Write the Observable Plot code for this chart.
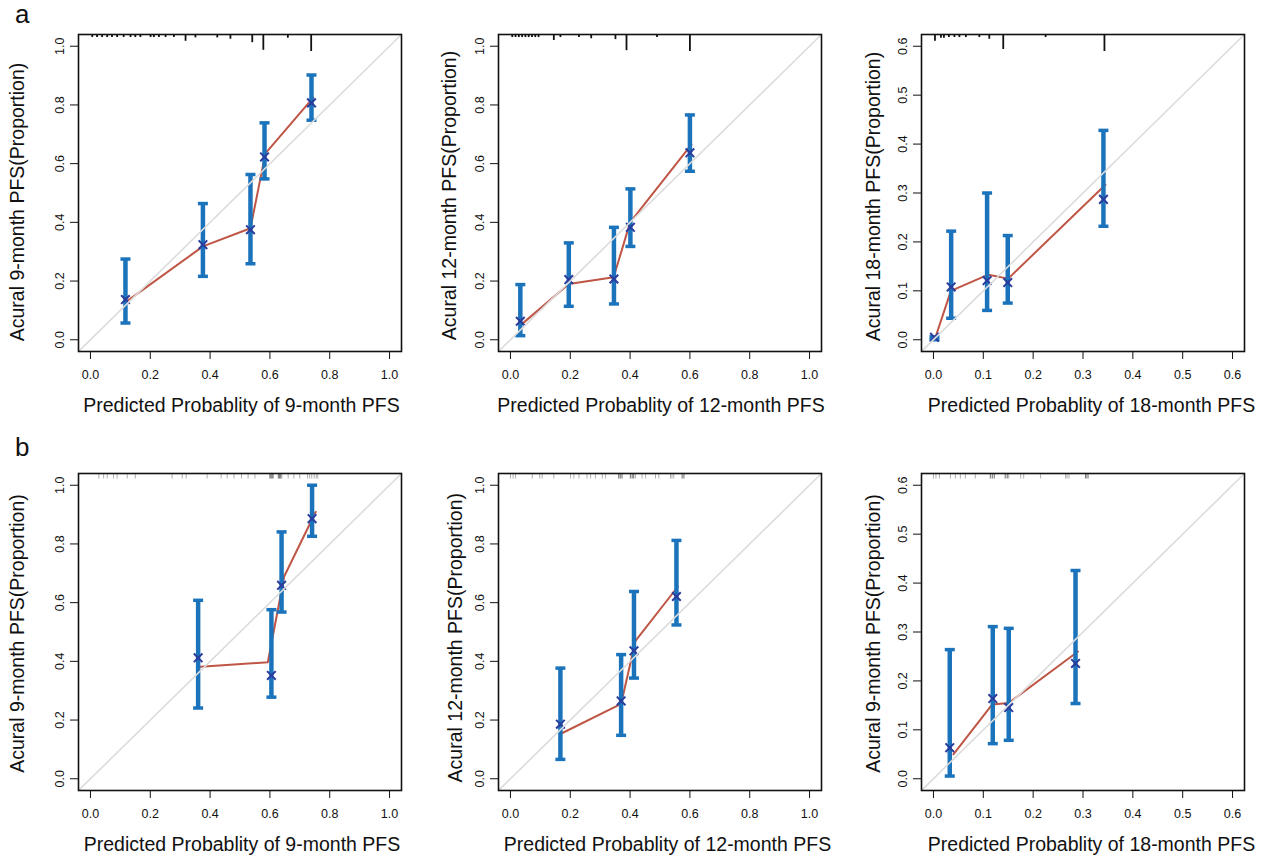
<!DOCTYPE html>
<html><head><meta charset="utf-8">
<script src="https://cdn.jsdelivr.net/npm/d3@7"></script>
<script src="https://cdn.jsdelivr.net/npm/@observablehq/plot@0.6"></script>
<style>
body{margin:0;background:#fff;font-family:"Liberation Sans",Arial,sans-serif;}
#wrap{position:relative;width:1266px;height:858px;overflow:hidden;background:#fff;}
.panel{position:absolute;width:422px;height:424px;}
.letter{position:absolute;font-size:26px;line-height:1.1;color:#111;}
</style></head><body>
<div id="wrap"></div>
<script>
// ---------- axis ticks ----------
const ticks10 = [0, 0.2, 0.4, 0.6, 0.8, 1.0];
const ticks06 = [0, 0.1, 0.2, 0.3, 0.4, 0.5, 0.6];

// ---------- titles ----------
const xTitles = ["Predicted Probablity of 9-month PFS", "Predicted Probablity of 12-month PFS", "Predicted Probablity of 18-month PFS"];
const yTitlesA = ["Acural 9-month PFS(Proportion)", "Acural 12-month PFS(Proportion)", "Acural 18-month PFS(Proportion)"];
const yTitlesB = ["Acural 9-month PFS(Proportion)", "Acural 12-month PFS(Proportion)", "Acural 9-month PFS(Proportion)"];

// ---------- panel a1 (9-month) ----------
const a1Pred = [0.117, 0.376, 0.535, 0.582, 0.739];
const a1Lo   = [0.057, 0.216, 0.259, 0.548, 0.748];
const a1Hi   = [0.275, 0.464, 0.563, 0.739, 0.902];
const a1Corr = [0.137, 0.324, 0.375, 0.623, 0.807];
const a1LineX = [0.12, 0.376, 0.535, 0.585, 0.745];
const a1LineY = [0.13, 0.318, 0.38, 0.635, 0.825];
const a1RugX = [0.006,0.022,0.039,0.056,0.072,0.089,0.111,0.134,0.150,0.167,0.201,0.212,0.229,0.251,0.279,0.318,0.351,0.424,0.468,0.541,0.578,0.660,0.738];
const a1RugN = [0.18,0.18,0.18,0.18,0.18,0.18,0.18,0.18,0.18,0.18,0.18,0.18,0.18,0.18,0.18,0.40,0.20,0.20,0.28,0.48,0.93,0.22,1.0];

// ---------- panel a2 (12-month) ----------
const a2Pred = [0.033, 0.195, 0.346, 0.401, 0.600];
const a2Lo   = [0.014, 0.114, 0.122, 0.318, 0.574];
const a2Hi   = [0.188, 0.330, 0.383, 0.514, 0.766];
const a2Corr = [0.063, 0.205, 0.207, 0.383, 0.637];
const a2LineX = [0.04, 0.195, 0.345, 0.40, 0.605];
const a2LineY = [0.055, 0.19, 0.213, 0.40, 0.665];
const a2RugX = [0.006,0.017,0.028,0.039,0.050,0.061,0.072,0.083,0.094,0.145,0.167,0.229,0.270,0.351,0.388,0.490,0.600];
const a2RugN = [0.18,0.18,0.18,0.18,0.18,0.18,0.18,0.18,0.18,0.35,0.18,0.18,0.25,0.30,0.95,0.18,1.0];

// ---------- panel a3 (18-month) ----------
const a3Pred = [0.002, 0.0355, 0.1076, 0.149, 0.341];
const a3Lo   = [0.000, 0.044, 0.060, 0.075, 0.232];
const a3Hi   = [0.006, 0.222, 0.300, 0.213, 0.428];
const a3Corr = [0.005, 0.108, 0.121, 0.117, 0.287];
const a3LineX = [0.003, 0.035, 0.11, 0.15, 0.345];
const a3LineY = [0.002, 0.10, 0.133, 0.125, 0.317];
const a3RugX = [0.003,0.015,0.021,0.031,0.042,0.052,0.065,0.092,0.112,0.140,0.225,0.343];
const a3RugN = [0.40,0.22,0.22,0.18,0.18,0.18,0.18,0.18,0.28,0.88,0.18,1.0];

// ---------- panel b1 (9-month) ----------
const b1Pred = [0.360, 0.605, 0.639, 0.741];
const b1Lo   = [0.241, 0.278, 0.568, 0.826];
const b1Hi   = [0.608, 0.576, 0.841, 1.000];
const b1Corr = [0.412, 0.352, 0.659, 0.886];
const b1LineX = [0.368, 0.593, 0.648, 0.753];
const b1LineY = [0.382, 0.397, 0.69, 0.909];
const b1RugX = [0.028,0.044,0.056,0.077,0.089,0.123,0.150,0.273,0.307,0.320,0.390,0.437,0.457,0.480,0.505,0.527,0.550,
  0.600,0.600,0.604,0.604,0.608,0.608,0.612,0.628,0.628,0.632,0.632,0.636,0.636,0.640,0.661,0.680,0.700,0.726,0.733,0.740,0.748,0.755,0.760];

// ---------- panel b2 (12-month) ----------
const b2Pred = [0.167, 0.370, 0.413, 0.555];
const b2Lo   = [0.066, 0.148, 0.343, 0.524];
const b2Hi   = [0.377, 0.423, 0.638, 0.812];
const b2Corr = [0.186, 0.265, 0.436, 0.621];
const b2LineX = [0.172, 0.37, 0.418, 0.56];
const b2LineY = [0.155, 0.255, 0.47, 0.655];
const b2RugX = [0.0,0.009,0.017,0.073,0.098,0.106,0.145,0.201,0.212,0.229,0.256,0.268,0.284,0.307,0.318,
  0.362,0.362,0.367,0.367,0.373,0.373,0.401,0.401,0.407,0.407,0.412,0.412,0.418,0.440,0.452,0.485,0.496,0.535,0.540,0.546,0.574,0.574,0.580,0.580];

// ---------- panel b3 (18-month) ----------
const b3Pred = [0.0327, 0.119, 0.151, 0.285];
const b3Lo   = [0.0055, 0.0718, 0.0786, 0.1538];
const b3Hi   = [0.264, 0.311, 0.3075, 0.4257];
const b3Corr = [0.0636, 0.164, 0.1456, 0.2358];
const b3LineX = [0.04, 0.118, 0.151, 0.29];
const b3LineY = [0.05, 0.152, 0.155, 0.26];
const b3RugX = [0.0,0.005,0.012,0.034,0.044,0.054,0.064,0.084,0.114,0.114,0.118,0.118,0.122,0.122,0.144,0.144,0.148,0.148,0.151,
  0.175,0.181,0.215,0.265,0.268,0.272,0.305,0.305,0.308,0.308,0.311];

// ---------- styles / layout ----------
const BLUE = "#1b74bb", NAVY = "#2a3c9c", RED = "#bf5545", DIAG = "#dcdcdc";
const FONT = "'Liberation Sans', Arial, Helvetica, sans-serif";
const cap = { draw(ctx, size) { const r = Math.sqrt(size / Math.PI); ctx.moveTo(-r, 0); ctx.lineTo(r, 0); } };

const panels = [
  {left: 0,   top: 0,   ticks: ticks10, pred: a1Pred, lo: a1Lo, hi: a1Hi, corr: a1Corr, lx: a1LineX, ly: a1LineY, rugX: a1RugX, rugN: a1RugN, xt: xTitles[0], yt: yTitlesA[0], xdx: 1.5, ydx: -61, ydy: 9},
  {left: 420, top: 0,   ticks: ticks10, pred: a2Pred, lo: a2Lo, hi: a2Hi, corr: a2Corr, lx: a2LineX, ly: a2LineY, rugX: a2RugX, rugN: a2RugN, xt: xTitles[1], yt: yTitlesA[1], xdx: 1, ydx: -48.5, ydy: 2.5},
  {left: 843, top: 0,   ticks: ticks06, pred: a3Pred, lo: a3Lo, hi: a3Hi, corr: a3Corr, lx: a3LineX, ly: a3LineY, rugX: a3RugX, rugN: a3RugN, xt: xTitles[2], yt: yTitlesA[2], xdx: 8.5, ydx: -47.5, ydy: 3.5},
  {left: 0,   top: 439, ticks: ticks10, pred: b1Pred, lo: b1Lo, hi: b1Hi, corr: b1Corr, lx: b1LineX, ly: b1LineY, rugX: b1RugX, rugN: null, xt: xTitles[0], yt: yTitlesB[0], xdx: 2, ydx: -61, ydy: 1.5},
  {left: 420, top: 439, ticks: ticks10, pred: b2Pred, lo: b2Lo, hi: b2Hi, corr: b2Corr, lx: b2LineX, ly: b2LineY, rugX: b2RugX, rugN: null, xt: xTitles[1], yt: yTitlesB[1], xdx: 7.5, ydx: -43, ydy: 5.7},
  {left: 843, top: 439, ticks: ticks06, pred: b3Pred, lo: b3Lo, hi: b3Hi, corr: b3Corr, lx: b3LineX, ly: b3LineY, rugX: b3RugX, rugN: null, xt: xTitles[2], yt: yTitlesB[2], xdx: 8.5, ydx: -47.5, ydy: 1.5}
];

const FRAME_H = 317;
function makePanel(p) {
  const t0 = p.ticks[0], t1 = p.ticks[p.ticks.length - 1];
  const pad = (t1 - t0) * 0.04;
  const dom = [t0 - pad, t1 + pad];
  const span = dom[1] - dom[0];
  const bars = p.pred.map((x, i) => ({x, lo: p.lo[i], hi: p.hi[i], m: p.corr[i]}));
  const line = p.lx.map((x, i) => ({x, y: p.ly[i]}));
  const diag = [{v: dom[0]}, {v: dom[1]}];
  const rugMarks = p.rugN
    ? [Plot.ruleX(p.rugX.map((x, i) => ({x, n: p.rugN[i]})), {x: "x", y1: () => dom[1], y2: d => dom[1] - d.n * span * 17 / FRAME_H, stroke: "#111", strokeWidth: 1.8})]
    : [Plot.ruleX(p.rugX.map(x => ({x})), {x: "x", y1: () => dom[1], y2: () => dom[1] - span * 5.5 / FRAME_H, stroke: "#000", strokeOpacity: 0.32, strokeWidth: 1})];
  return Plot.plot({
    width: 422, height: 424,
    marginLeft: 78, marginRight: 21, marginTop: 34, marginBottom: 73,
    x: {domain: dom}, y: {domain: dom},
    style: {fontFamily: FONT, background: "transparent", overflow: "visible", color: "#111"},
    marks: [
      Plot.line(line, {x: "x", y: "y", stroke: RED, strokeWidth: 2}),
      Plot.ruleX(bars, {x: "x", y1: "lo", y2: "hi", stroke: BLUE, strokeWidth: 4.5}),
      Plot.dot(bars, {x: "x", y: "lo", symbol: cap, r: 5, fill: "none", stroke: BLUE, strokeWidth: 3.5}),
      Plot.dot(bars, {x: "x", y: "hi", symbol: cap, r: 5, fill: "none", stroke: BLUE, strokeWidth: 3.5}),
      Plot.dot(bars, {x: "x", y: "m", symbol: "times", r: 4, stroke: NAVY, strokeWidth: 2}),
      Plot.line(diag, {x: "v", y: "v", stroke: DIAG, strokeWidth: 1.6, clip: true}),
      ...rugMarks,
      Plot.frame({stroke: "#111", strokeWidth: 1.6}),
      Plot.axisX({ticks: p.ticks, tickFormat: d3.format(".1f"), tickSize: 8, tickPadding: 11, fontSize: 12.5, label: null}),
      Plot.axisY({ticks: p.ticks, tickFormat: d3.format(".1f"), tickSize: 8, tickPadding: 7, tickRotate: -90, fontSize: 12.5, label: null}),
      Plot.text([p.xt], {text: d => d, frameAnchor: "bottom", dy: 54, dx: p.xdx, fontSize: 19.5, textAnchor: "middle", lineAnchor: "middle", fill: "#111"}),
      Plot.text([p.yt], {text: d => d, frameAnchor: "left", dx: p.ydx, dy: p.ydy, rotate: -90, fontSize: 19.5, textAnchor: "middle", lineAnchor: "middle", fill: "#111"})
    ]
  });
}

const wrap = document.getElementById("wrap");
for (const p of panels) {
  const div = document.createElement("div");
  div.className = "panel";
  div.style.left = p.left + "px";
  div.style.top = p.top + "px";
  div.appendChild(makePanel(p));
  wrap.appendChild(div);
}
for (const [txt, l, t] of [["a", 15, 0], ["b", 15, 433]]) {
  const d = document.createElement("div");
  d.className = "letter";
  d.textContent = txt;
  d.style.left = l + "px";
  d.style.top = t + "px";
  wrap.appendChild(d);
}
</script>
</body></html>
